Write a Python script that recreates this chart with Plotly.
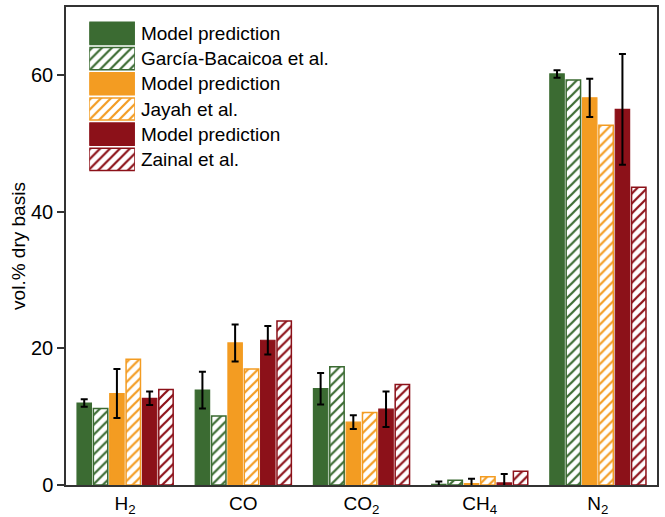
import plotly.graph_objects as go

# Gas species on the x axis
categories = ["H<sub>2</sub>", "CO", "CO<sub>2</sub>", "CH<sub>4</sub>", "N<sub>2</sub>"]

# Model predictions (vol.% dry basis) with their uncertainty, and experimental data
model_garcia = [12.0, 13.9, 14.1, 0.1, 60.2]
err_garcia = [0.55, 2.7, 2.3, 0.4, 0.55]
exp_garcia = [11.2, 10.1, 17.3, 0.7, 59.3]

model_jayah = [13.4, 20.8, 9.2, 0.2, 56.7]
err_jayah = [3.6, 2.7, 1.0, 0.7, 2.8]
exp_jayah = [18.4, 17.0, 10.6, 1.2, 52.7]

model_zainal = [12.7, 21.2, 11.1, 0.3, 55.0]
err_zainal = [1.0, 2.1, 2.6, 1.3, 8.1]
exp_zainal = [14.0, 24.0, 14.7, 2.0, 43.6]

legend_labels = ["Model prediction", "García-Bacaicoa et al.",
                 "Model prediction", "Jayah et al.",
                 "Model prediction", "Zainal et al."]

GREEN = "#3b6b32"
ORANGE = "#f39c22"
RED = "#8c1119"
FONT = "Liberation Sans, Arial, sans-serif"

x_idx = list(range(len(categories)))


def solid_bar(vals, errs, color):
    return go.Bar(
        x=x_idx, y=vals,
        marker=dict(color=color, line=dict(color=color, width=1.2)),
        error_y=dict(type="data", array=errs, visible=True,
                     color="black", thickness=2, width=3.5),
        showlegend=False,
    )


def hatched_bar(vals, color):
    return go.Bar(
        x=x_idx, y=vals,
        marker=dict(color=color, line=dict(color=color, width=1.5),
                    pattern=dict(shape="/", fgcolor=color, bgcolor="white",
                                 size=7, solidity=0.32, fillmode="replace")),
        showlegend=False,
    )


fig = go.Figure()
fig.add_trace(solid_bar(model_garcia, err_garcia, GREEN))
fig.add_trace(hatched_bar(exp_garcia, GREEN))
fig.add_trace(solid_bar(model_jayah, err_jayah, ORANGE))
fig.add_trace(hatched_bar(exp_jayah, ORANGE))
fig.add_trace(solid_bar(model_zainal, err_zainal, RED))
fig.add_trace(hatched_bar(exp_zainal, RED))

# Key with large swatches, drawn as a small inset of horizontal bars
key_colors = [GREEN, GREEN, ORANGE, ORANGE, RED, RED]
key_shapes = ["", "/", "", "/", "", "/"]
fig.add_trace(go.Bar(
    x=[1] * 6, y=list(range(6)), orientation="h", width=0.88,
    xaxis="x2", yaxis="y2",
    marker=dict(color=key_colors, line=dict(color=key_colors, width=1.5),
                pattern=dict(shape=key_shapes, fgcolor=key_colors,
                             bgcolor="white", size=7, solidity=0.32,
                             fillmode="replace")),
    showlegend=False, hoverinfo="skip",
))

axis_line = dict(showline=True, linecolor="#333333", linewidth=1.5)

fig.update_layout(
    width=665, height=517,
    margin=dict(l=66, r=8, t=7, b=32),
    paper_bgcolor="white", plot_bgcolor="white",
    font=dict(family=FONT, size=19, color="black"),
    barmode="group", bargap=0.17, bargroupgap=0.12,
    showlegend=False,
    xaxis=dict(
        **axis_line, mirror=True, automargin=False,
        tickmode="array", tickvals=x_idx, ticktext=categories,
        range=[-0.5, 4.5], ticks="", showgrid=False, zeroline=False,
        tickfont=dict(size=19), ticklabelstandoff=0,
    ),
    yaxis=dict(
        **axis_line, mirror=True, automargin=False,
        range=[0, 70], tickvals=[0, 20, 40, 60],
        ticks="outside", ticklen=7, tickwidth=1.5, tickcolor="#333333",
        showgrid=False, zeroline=False,
        title=dict(text="vol.% dry basis", font=dict(size=19), standoff=0),
        tickfont=dict(size=20),
    ),
    yaxis3=dict(
        overlaying="y", side="right", range=[0, 70],
        tickvals=[0, 20, 40, 60], ticks="inside", ticklen=7,
        tickwidth=1.5, tickcolor="#333333", automargin=False,
        showticklabels=False, showgrid=False, zeroline=False, showline=False,
    ),
    xaxis2=dict(domain=[0.0394, 0.1166], range=[0, 1], anchor="y2",
                visible=False, fixedrange=True),
    yaxis2=dict(domain=[0.655, 0.971], range=[5.5, -0.5], anchor="x2",
                side="right", tickmode="array", tickvals=list(range(6)),
                ticktext=legend_labels, ticks="", ticklabelstandoff=5,
                showline=False, showgrid=False, zeroline=False,
                automargin=False, tickfont=dict(size=19), fixedrange=True),
)

fig.write_html("out.html")
